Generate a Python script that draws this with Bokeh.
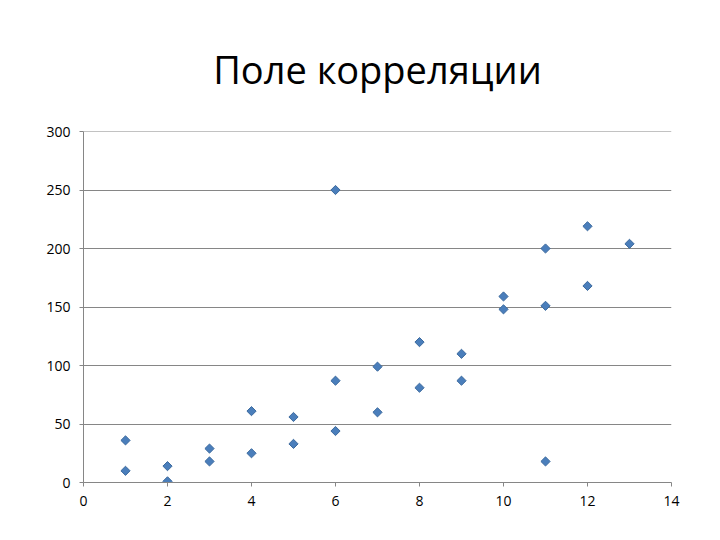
import math
from bokeh.plotting import figure
from bokeh.models import Range1d, FixedTicker, ColumnDataSource, Span
from bokeh.embed import file_html
from bokeh.resources import INLINE

x_vals = [1, 1, 2, 2, 3, 3, 4, 4, 5, 5, 6, 6, 6, 7, 7, 8, 8, 9, 9, 10, 10, 11, 11, 11, 12, 12, 13]
y_vals = [36, 10, 14, 1, 29, 18, 61, 25, 56, 33, 250, 87, 44, 99, 60, 120, 81, 110, 87, 159, 148, 200, 151, 18, 219, 168, 204]
x_ticks = [0, 2, 4, 6, 8, 10, 12, 14]
y_ticks = [0, 50, 100, 150, 200, 250, 300]
title_text = "Поле корреляции"

src = ColumnDataSource(dict(x=x_vals, y=y_vals))

p = figure(width=720, height=540, output_backend="svg", toolbar_location=None,
           x_range=Range1d(x_ticks[0], x_ticks[-1]), y_range=Range1d(y_ticks[0], y_ticks[-1]),
           min_border_left=83, min_border_right=49, min_border_top=131, min_border_bottom=58)

p.title.text = title_text
p.title.align = "center"
p.title.text_font = "Open Sans"
p.title.text_font_size = "38px"
p.title.text_font_style = "normal"
p.title.text_color = "#000000"
p.title.text_line_height = 0.6
p.title.standoff = 74

p.outline_line_color = None
p.background_fill_color = "white"
p.border_fill_color = "white"

p.xgrid.grid_line_color = None
p.ygrid.grid_line_color = "#868686"
p.ygrid.grid_line_width = 1
p.add_layout(Span(location=y_ticks[-1], dimension="width", line_color="#868686", line_width=1))

for ax in (p.xaxis, p.yaxis):
    ax.axis_line_color = "#868686"
    ax.major_tick_line_color = "#868686"
    ax.minor_tick_line_color = None
    ax.major_tick_in = 0
    ax.major_tick_out = 4
    ax.major_label_text_font = "Open Sans"
    ax.major_label_text_font_size = "14px"
    ax.major_label_text_color = "#000000"

p.xaxis.ticker = FixedTicker(ticks=x_ticks)
p.yaxis.ticker = FixedTicker(ticks=y_ticks)
p.xaxis.major_label_standoff = 9
p.yaxis.major_label_standoff = 9

p.scatter("x", "y", source=src, marker="square", size=6.5, angle=math.pi / 4,
          fill_color="#4A7EBB", line_color="#3C6A9E", line_width=1)

open("out.html", "w").write(file_html(p, INLINE))
